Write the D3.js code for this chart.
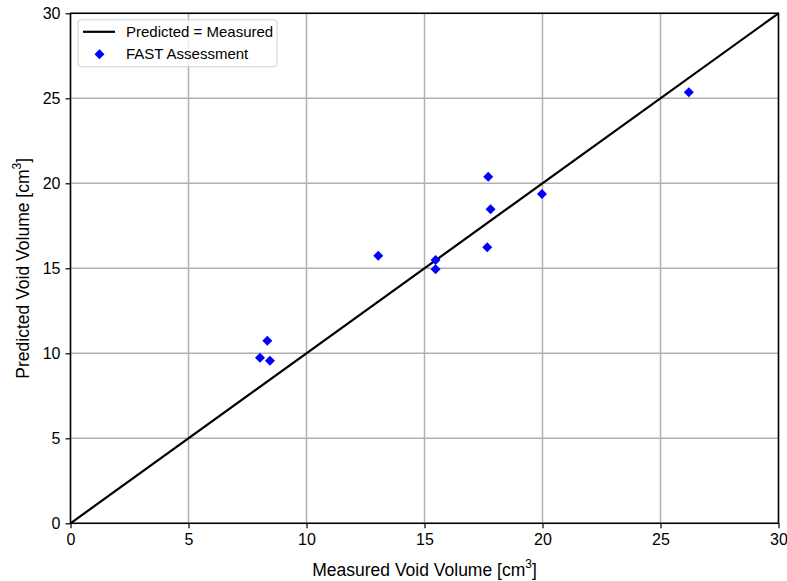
<!DOCTYPE html>
<html>
<head>
<meta charset="utf-8">
<script src="https://cdn.jsdelivr.net/npm/d3@7"></script>
<style>
  body { margin: 0; background: #fff; }
  svg { font-family: "Liberation Sans", Arial, sans-serif; }
</style>
</head>
<body>
<svg id="chart" width="787" height="581"></svg>
<script>
// measured vs predicted void volume (cm^3)
var measured  = [8.34, 8.03, 8.45, 13.04, 15.47, 15.47, 17.66, 17.70, 17.80, 19.98, 26.20];
var predicted = [10.74, 9.74, 9.56, 15.74, 15.49, 14.94, 16.24, 20.39, 18.47, 19.37, 25.35];
var ticks = [0, 5, 10, 15, 20, 25, 30];
var idealLine = [[0, 0], [30, 30]];

var margin = { left: 70.5, top: 13.3 };
var width = 708, height = 510;

var svg = d3.select("#chart");
var g = svg.append("g").attr("transform", `translate(${margin.left},${margin.top})`);

var x = d3.scaleLinear().domain([0, 30]).range([0, width]);
var y = d3.scaleLinear().domain([0, 30]).range([height, 0]);

// grid
g.append("g").selectAll("line")
  .data(ticks)
  .join("line")
  .attr("x1", d => x(d)).attr("x2", d => x(d))
  .attr("y1", 0).attr("y2", height)
  .attr("stroke", "#b0b0b0").attr("stroke-width", 1.5);
g.append("g").selectAll("line")
  .data(ticks)
  .join("line")
  .attr("y1", d => y(d)).attr("y2", d => y(d))
  .attr("x1", 0).attr("x2", width)
  .attr("stroke", "#b0b0b0").attr("stroke-width", 1.5);

// axes
var xAxis = g.append("g")
  .attr("transform", `translate(0,${height})`)
  .call(d3.axisBottom(x).tickValues(ticks).tickSize(5).tickPadding(5));
var yAxis = g.append("g")
  .call(d3.axisLeft(y).tickValues(ticks).tickSize(5).tickPadding(5));
[xAxis, yAxis].forEach(a => {
  a.select(".domain").remove();
  a.selectAll(".tick line").attr("stroke", "#000").attr("stroke-width", 1.2);
  a.selectAll(".tick text").attr("font-size", 16).attr("fill", "#000")
    .attr("font-family", "Liberation Sans, Arial, sans-serif");
});

// y = x line
var line = d3.line().x(d => x(d[0])).y(d => y(d[1]));
g.append("path")
  .datum(idealLine)
  .attr("d", line)
  .attr("fill", "none")
  .attr("stroke", "#000")
  .attr("stroke-width", 2.2);

// points
var diamond = d3.symbol().type(d3.symbolSquare).size(50);
g.append("g").selectAll("path")
  .data(measured.map((m, i) => [m, predicted[i]]))
  .join("path")
  .attr("d", diamond)
  .attr("transform", d => `translate(${x(d[0])},${y(d[1])}) rotate(45)`)
  .attr("fill", "#0000ff");

// frame
g.append("rect")
  .attr("width", width).attr("height", height)
  .attr("fill", "none").attr("stroke", "#000").attr("stroke-width", 1.5);

// legend
var lg = g.append("g").attr("transform", "translate(7.5,6.5)");
lg.append("rect")
  .attr("width", 199).attr("height", 47)
  .attr("rx", 3)
  .attr("fill", "#fff").attr("fill-opacity", 0.8)
  .attr("stroke", "#d0d0d0").attr("stroke-width", 1);
lg.append("line")
  .attr("x1", 5).attr("x2", 37).attr("y1", 12).attr("y2", 12)
  .attr("stroke", "#000").attr("stroke-width", 2.2);
lg.append("path")
  .attr("d", diamond)
  .attr("transform", "translate(21.5,34.5) rotate(45)")
  .attr("fill", "#0000ff");
lg.append("text").attr("x", 48).attr("y", 17.5).attr("font-size", 15).text("Predicted = Measured");
lg.append("text").attr("x", 48).attr("y", 39.5).attr("font-size", 15).text("FAST Assessment");

// axis labels
var xl = svg.append("text")
  .attr("x", margin.left + width / 2).attr("y", 576)
  .attr("text-anchor", "middle").attr("font-size", 17.5);
xl.append("tspan").text("Measured Void Volume [cm");
xl.append("tspan").attr("dy", -8).attr("font-size", 12).text("3");
xl.append("tspan").attr("dy", 8).text("]");

var yl = svg.append("text")
  .attr("transform", `translate(29,${margin.top + height / 2}) rotate(-90)`)
  .attr("text-anchor", "middle").attr("font-size", 17.5);
yl.append("tspan").text("Predicted Void Volume [cm");
yl.append("tspan").attr("dy", -8).attr("font-size", 12).text("3");
yl.append("tspan").attr("dy", 8).text("]");
</script>
</body>
</html>
